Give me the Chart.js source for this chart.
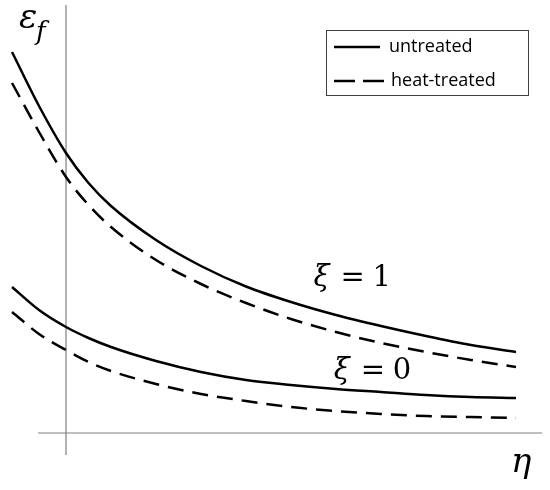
<!DOCTYPE html>
<html>
<head>
<meta charset="utf-8">
<script src="https://cdn.jsdelivr.net/npm/chart.js@4/dist/chart.umd.min.js"></script>
<style>
  html, body { margin: 0; padding: 0; background: #fff; }
  #wrap { width: 550px; height: 490px; }
</style>
</head>
<body>
<div id="wrap"><canvas id="myChart" width="550" height="490"></canvas></div>
<script>
// eta (x) and eps_f (y), arbitrary units
const eta = [-0.12, -0.06, 0, 0.05, 0.1, 0.2, 0.3, 0.4, 0.5, 0.6, 0.7, 0.8, 0.9, 1.0];
const untreatedXi1 = [3.81, 3.27, 2.80, 2.50, 2.27, 1.93, 1.67, 1.465, 1.31, 1.18, 1.07, 0.97, 0.88, 0.81];
const heatXi1      = [3.50, 3.01, 2.56, 2.28, 2.06, 1.73, 1.49, 1.30, 1.14, 1.01, 0.90, 0.81, 0.73, 0.66];
const untreatedXi0 = [1.46, 1.23, 1.06, 0.95, 0.86, 0.72, 0.61, 0.53, 0.48, 0.44, 0.41, 0.38, 0.36, 0.35];
const heatXi0      = [1.21, 0.99, 0.83, 0.71, 0.62, 0.49, 0.39, 0.32, 0.26, 0.22, 0.19, 0.17, 0.16, 0.15];

const seriesLabels = ['untreated', 'heat-treated'];
const curveLabels = [{ xi: '1', at: [0.55, 1.47] }, { xi: '0', at: [0.595, 0.54] }];

const pts = ys => ys.map((y, i) => ({ x: eta[i], y: y }));
const DASH = [16, 9];

const axesPlugin = {
    id: 'sketchAxes',
    beforeDatasetsDraw(chart) {
        const { ctx, scales: { x, y } } = chart;
        ctx.save();
        ctx.strokeStyle = '#808080';
        ctx.lineWidth = 1.2;
        ctx.beginPath();
        ctx.moveTo(x.getPixelForValue(-0.062), y.getPixelForValue(0));
        ctx.lineTo(x.getPixelForValue(1.058), y.getPixelForValue(0));
        ctx.moveTo(x.getPixelForValue(0), y.getPixelForValue(4.28));
        ctx.lineTo(x.getPixelForValue(0), y.getPixelForValue(-0.22));
        ctx.stroke();
        ctx.restore();
    },
    afterDatasetsDraw(chart) {
        const { ctx, scales: { x, y } } = chart;
        ctx.save();
        ctx.fillStyle = '#000';
        ctx.textBaseline = 'alphabetic';

        // axis titles
        ctx.font = 'italic 34px "DejaVu Serif"';
        ctx.fillText('\u03b5', 19, 28);
        ctx.font = 'italic 26px "DejaVu Serif"';
        ctx.fillText('f', 36, 40);
        ctx.font = 'italic 34px "DejaVu Serif"';
        ctx.fillText('\u03b7', 511, 472);

        // curve annotations
        curveLabels.forEach(l => {
            const px = x.getPixelForValue(l.at[0]);
            const py = y.getPixelForValue(l.at[1]);
            ctx.font = 'italic 29px "DejaVu Serif"';
            ctx.fillText('\u03be', px, py);
            ctx.font = '29px "DejaVu Serif"';
            ctx.fillText('=', px + 27, py);
            ctx.fillText(l.xi, px + 59, py);
        });

        // legend box
        ctx.strokeStyle = '#404040';
        ctx.lineWidth = 1;
        ctx.strokeRect(326.5, 30.5, 202, 65);
        ctx.strokeStyle = '#000';
        ctx.lineWidth = 2.5;
        ctx.beginPath();
        ctx.moveTo(334, 47); ctx.lineTo(380, 47);
        ctx.stroke();
        ctx.beginPath();
        ctx.moveTo(334, 81); ctx.lineTo(355, 81);
        ctx.moveTo(363, 81); ctx.lineTo(384, 81);
        ctx.stroke();
        ctx.font = '18px "Open Sans"';
        ctx.textBaseline = 'middle';
        ctx.fillText(seriesLabels[0], 389, 47);
        ctx.fillText(seriesLabels[1], 391, 81);
        ctx.restore();
    }
};

const base = { borderColor: '#000', borderWidth: 2.5, pointRadius: 0, cubicInterpolationMode: 'monotone', fill: false };

new Chart(document.getElementById('myChart').getContext('2d'), {
    type: 'line',
    data: {
        datasets: [
            { ...base, label: 'untreated, xi=1', data: pts(untreatedXi1) },
            { ...base, label: 'heat-treated, xi=1', data: pts(heatXi1), borderDash: DASH },
            { ...base, label: 'untreated, xi=0', data: pts(untreatedXi0) },
            { ...base, label: 'heat-treated, xi=0', data: pts(heatXi0), borderDash: DASH }
        ]
    },
    options: {
        responsive: false,
        animation: false,
        layout: { padding: 0 },
        scales: {
            x: { type: 'linear', display: false, min: -0.1467, max: 1.0756 },
            y: { type: 'linear', display: false, min: -0.57, max: 4.33 }
        },
        plugins: { legend: { display: false }, tooltip: { enabled: false } }
    },
    plugins: [axesPlugin]
});
</script>
</body>
</html>
